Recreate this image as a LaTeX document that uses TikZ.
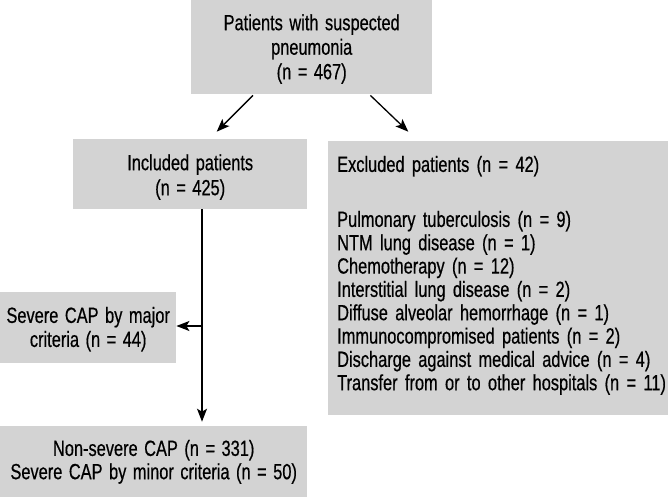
\documentclass[tikz,border=0pt]{standalone}
\usepackage{fontspec}
\newfontfamily\cond[FakeStretch=0.745,WordSpace=1.43,FakeBold=0.5]{Liberation Sans}
\usetikzlibrary{arrows.meta,calc}
\definecolor{boxgray}{RGB}{211,211,211}
\newcommand\ind{\hspace*{9pt}}
\begin{document}
\begin{tikzpicture}[x=1pt,y=-1pt,
  box/.style={fill=boxgray, inner sep=0pt, anchor=north west},
  arr/.style={line width=1.3pt, -{Stealth[length=13pt,width=10pt,inset=3pt]}}]
\useasboundingbox (0,0) rectangle (669,497);
\node[box, minimum width=241pt, minimum height=94pt, align=center,
      font={\cond\fontsize{22}{24.5}\selectfont}] (top) at (191,0)
  {\rule{0pt}{30pt}Patients with suspected\\pneumonia\\(n = 467)\rule[-15pt]{0pt}{15pt}};
\node[box, minimum width=234pt, minimum height=70pt, align=center,
      font={\cond\fontsize{22}{25}\selectfont}] (inc) at (73,139)
  {\rule{0pt}{31pt}Included patients\\(n = 425)\rule[-14pt]{0pt}{14pt}};
\node[box, text width=340pt, minimum height=274.3pt, align=left,
      font={\cond\fontsize{22}{23.33}\selectfont}] (exc) at (328,140.7)
  {\ind\rule{0pt}{31pt}Excluded patients (n = 42)\\[31.67pt]
   \ind Pulmonary tuberculosis (n = 9)\\
   \ind NTM lung disease (n = 1)\\
   \ind Chemotherapy (n = 12)\\
   \ind Interstitial lung disease (n = 2)\\
   \ind Diffuse alveolar hemorrhage (n = 1)\\
   \ind Immunocompromised patients (n = 2)\\
   \ind Discharge against medical advice (n = 4)\\
   \ind Transfer from or to other hospitals (n = 11)\rule[-25pt]{0pt}{25pt}};
\node[box, minimum width=176pt, minimum height=70.7pt, align=center,
      font={\cond\fontsize{22}{24}\selectfont}] (sev) at (0,292)
  {\rule{0pt}{30.7pt}Severe CAP by major\\criteria (n = 44)\rule[-16pt]{0pt}{16pt}};
\node[box, minimum width=307pt, minimum height=71pt, align=center,
      font={\cond\fontsize{22}{23.3}\selectfont}] (ns) at (0,426)
  {\rule{0pt}{29.7pt}Non-severe CAP (n = 331)\\Severe CAP by minor criteria (n = 50)\rule[-18pt]{0pt}{18pt}};
\coordinate (j) at (202,326);
\draw[arr] ($(top.south west)+(62,1)$) -- ($(inc.north west)+(143.7,-7.3)$);
\draw[arr] ($(top.south east)+(-62,1)$) -- ($(exc.north west)+(80.3,-9)$);
\draw[arr, shorten >=4.3pt] (inc.south -| j) -- (ns.north -| j);
\draw[arr] (j) -- (sev.east |- j);
\end{tikzpicture}
\end{document}
